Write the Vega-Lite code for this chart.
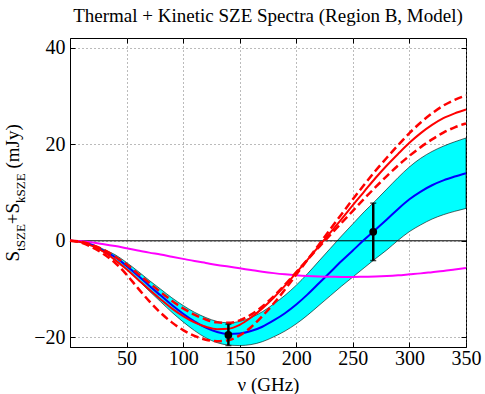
{
  "$schema": "https://vega.github.io/schema/vega-lite/v6.json",
  "width": 396,
  "height": 309,
  "autosize": {"type": "none"},
  "padding": {"left": 70, "top": 38, "right": 19, "bottom": 47},
  "background": "white",
  "config": {
    "view": {"stroke": "black", "strokeWidth": 1},
    "font": "Liberation Serif",
    "axis": {"labelFont": "Liberation Serif", "titleFont": "Liberation Serif", "labelColor": "black", "titleColor": "black", "titleFontWeight": "normal", "domainColor": "black", "tickColor": "black"}
  },
  "title": {"text": "Thermal + Kinetic SZE Spectra (Region B, Model)", "font": "Liberation Serif", "fontSize": 19, "fontWeight": "normal", "color": "black", "offset": 12, "anchor": "middle"},
  "datasets": {
    "curves": [
      {"nu": 0, "c": 0, "lo": 0, "hi": 0, "red": 0, "ra": 0, "rb": 0, "mag": 0},
      {"nu": 10, "c": -0.2, "lo": -0.25, "hi": -0.15, "red": -0.3, "ra": -0.4, "rb": -0.2, "mag": -0.1},
      {"nu": 20, "c": -0.9, "lo": -1.05, "hi": -0.75, "red": -1.1, "ra": -1.4, "rb": -0.9, "mag": -0.35},
      {"nu": 30, "c": -2.1, "lo": -2.4, "hi": -1.8, "red": -2.3, "ra": -2.8, "rb": -1.9, "mag": -0.7},
      {"nu": 40, "c": -3.4, "lo": -3.9, "hi": -2.9, "red": -4.0, "ra": -4.6, "rb": -3.3, "mag": -1.1},
      {"nu": 50, "c": -5.2, "lo": -5.9, "hi": -4.5, "red": -5.9, "ra": -7.0, "rb": -4.9, "mag": -1.55},
      {"nu": 60, "c": -7.2, "lo": -8.1, "hi": -6.3, "red": -8.0, "ra": -9.8, "rb": -6.8, "mag": -2.0},
      {"nu": 70, "c": -9.3, "lo": -10.4, "hi": -8.2, "red": -10.1, "ra": -12.5, "rb": -8.7, "mag": -2.45},
      {"nu": 80, "c": -11.3, "lo": -12.6, "hi": -10.0, "red": -12.1, "ra": -14.9, "rb": -10.6, "mag": -2.85},
      {"nu": 90, "c": -13.3, "lo": -14.8, "hi": -11.8, "red": -14.0, "ra": -16.9, "rb": -12.4, "mag": -3.3},
      {"nu": 100, "c": -15.1, "lo": -16.8, "hi": -13.4, "red": -15.6, "ra": -18.5, "rb": -14.0, "mag": -3.75},
      {"nu": 110, "c": -16.7, "lo": -18.6, "hi": -14.8, "red": -16.9, "ra": -19.7, "rb": -15.3, "mag": -4.2},
      {"nu": 120, "c": -18.0, "lo": -20.1, "hi": -15.9, "red": -17.8, "ra": -20.5, "rb": -16.3, "mag": -4.6},
      {"nu": 130, "c": -18.9, "lo": -21.1, "hi": -16.7, "red": -18.3, "ra": -20.8, "rb": -16.9, "mag": -5.0},
      {"nu": 140, "c": -19.3, "lo": -21.6, "hi": -17.0, "red": -18.2, "ra": -20.6, "rb": -17.0, "mag": -5.35},
      {"nu": 150, "c": -19.2, "lo": -21.7, "hi": -16.7, "red": -17.4, "ra": -19.6, "rb": -16.5, "mag": -5.7},
      {"nu": 160, "c": -18.7, "lo": -21.5, "hi": -15.9, "red": -15.9, "ra": -17.9, "rb": -15.3, "mag": -6.05},
      {"nu": 170, "c": -17.8, "lo": -20.9, "hi": -14.7, "red": -14.0, "ra": -15.6, "rb": -13.6, "mag": -6.4},
      {"nu": 180, "c": -16.5, "lo": -19.9, "hi": -13.1, "red": -11.8, "ra": -13.0, "rb": -11.5, "mag": -6.7},
      {"nu": 190, "c": -15.0, "lo": -18.7, "hi": -11.3, "red": -9.3, "ra": -10.1, "rb": -9.1, "mag": -6.95},
      {"nu": 200, "c": -13.2, "lo": -17.2, "hi": -9.2, "red": -6.6, "ra": -7.0, "rb": -6.5, "mag": -7.15},
      {"nu": 210, "c": -11.1, "lo": -15.4, "hi": -6.8, "red": -3.9, "ra": -3.9, "rb": -3.9, "mag": -7.3},
      {"nu": 220, "c": -8.8, "lo": -13.4, "hi": -4.2, "red": -1.1, "ra": -0.8, "rb": -1.3, "mag": -7.4},
      {"nu": 230, "c": -6.5, "lo": -11.4, "hi": -1.6, "red": 1.7, "ra": 2.4, "rb": 1.2, "mag": -7.45},
      {"nu": 240, "c": -4.2, "lo": -9.4, "hi": 1.0, "red": 4.5, "ra": 5.5, "rb": 3.7, "mag": -7.5},
      {"nu": 250, "c": -2.0, "lo": -7.5, "hi": 3.5, "red": 7.4, "ra": 8.6, "rb": 6.2, "mag": -7.5},
      {"nu": 260, "c": 0.2, "lo": -5.6, "hi": 6.0, "red": 10.2, "ra": 11.6, "rb": 8.7, "mag": -7.45},
      {"nu": 270, "c": 2.3, "lo": -3.7, "hi": 8.3, "red": 13.0, "ra": 14.5, "rb": 11.1, "mag": -7.4},
      {"nu": 280, "c": 4.4, "lo": -1.9, "hi": 10.7, "red": 15.6, "ra": 17.2, "rb": 13.4, "mag": -7.3},
      {"nu": 290, "c": 6.6, "lo": 0.1, "hi": 13.1, "red": 18.0, "ra": 19.8, "rb": 15.6, "mag": -7.15},
      {"nu": 300, "c": 8.6, "lo": 1.9, "hi": 15.3, "red": 20.3, "ra": 22.3, "rb": 17.6, "mag": -6.95},
      {"nu": 310, "c": 10.2, "lo": 3.3, "hi": 17.1, "red": 22.3, "ra": 24.5, "rb": 19.4, "mag": -6.75},
      {"nu": 320, "c": 11.5, "lo": 4.5, "hi": 18.5, "red": 24.0, "ra": 26.4, "rb": 21.0, "mag": -6.5},
      {"nu": 330, "c": 12.5, "lo": 5.4, "hi": 19.6, "red": 25.4, "ra": 28.0, "rb": 22.4, "mag": -6.25},
      {"nu": 340, "c": 13.3, "lo": 6.1, "hi": 20.5, "red": 26.4, "ra": 29.2, "rb": 23.5, "mag": -5.95},
      {"nu": 350, "c": 14.0, "lo": 6.7, "hi": 21.3, "red": 27.2, "ra": 30.1, "rb": 24.3, "mag": -5.65}
    ],
    "points": [
      {"nu": 140, "y": -19.5, "lo": -21.7, "hi": -17.3},
      {"nu": 268, "y": 1.85, "lo": -4.1, "hi": 7.8}
    ]
  },
  "resolve": {"axis": {"x": "independent", "y": "independent"}},
  "layer": [
    {
      "data": {"name": "curves"},
      "mark": {"type": "area", "fill": "#00FFFF", "stroke": "black", "strokeWidth": 0.6, "interpolate": "monotone"},
      "encoding": {
        "x": {"field": "nu", "type": "quantitative", "scale": {"domain": [0, 350], "nice": false, "zero": false},
          "axis": {"orient": "bottom", "values": [50, 100, 150, 200, 250, 300, 350], "grid": true, "gridDash": [1, 3], "gridColor": "#777", "gridWidth": 1, "tickSize": -5, "labelFont": "Liberation Serif", "labelFontSize": 20, "labelPadding": 6, "labelFlush": false, "labelOverlap": false, "format": "d", "title": "ν (GHz)", "titleFont": "Liberation Serif", "titleFontSize": 19, "titleBaseline": "alphabetic", "titleY": 43}},
        "y": {"field": "lo", "type": "quantitative", "scale": {"domain": [-22, 42], "nice": false, "zero": false},
          "axis": {"orient": "left", "values": [-20, 0, 20, 40], "grid": true, "gridDash": [1, 3], "gridColor": "#777", "gridWidth": 1, "tickSize": -5, "labelFont": "Liberation Serif", "labelFontSize": 20, "labelPadding": 10, "labelFlush": false, "labelOverlap": false, "format": "d", "title": null}},
        "y2": {"field": "hi"}
      }
    },
    {
      "data": {"values": [{"baseline": 0}]},
      "mark": {"type": "rule", "color": "black", "strokeWidth": 1},
      "encoding": {
        "y": {"field": "baseline", "type": "quantitative", "scale": {"domain": [-22, 42], "nice": false, "zero": false},
          "axis": {"orient": "right", "values": [-20, 0, 20, 40], "tickSize": -5, "labels": false, "domain": false, "grid": false, "title": null}}
      }
    },
    {
      "data": {"name": "curves"},
      "mark": {"type": "line", "color": "#0000FF", "strokeWidth": 2, "interpolate": "monotone"},
      "encoding": {
        "x": {"field": "nu", "type": "quantitative", "scale": {"domain": [0, 350], "nice": false, "zero": false},
          "axis": {"orient": "top", "values": [50, 100, 150, 200, 250, 300, 350], "tickSize": -5, "labels": false, "domain": false, "grid": false, "title": null}},
        "y": {"field": "c", "type": "quantitative", "scale": {"domain": [-22, 42], "nice": false, "zero": false},
          "axis": {"orient": "left", "ticks": false, "labels": false, "domain": false, "grid": false, "title": "S", "titleFont": "Liberation Serif", "titleFontSize": 19, "titleAngle": 270, "titleAlign": "left", "titleBaseline": "alphabetic", "titleX": -52, "titleY": 223}}
      }
    },
    {
      "data": {"name": "curves"},
      "mark": {"type": "line", "color": "#FF00FF", "strokeWidth": 2, "interpolate": "monotone"},
      "encoding": {
        "x": {"field": "nu", "type": "quantitative", "scale": {"domain": [0, 350], "nice": false, "zero": false}, "axis": null},
        "y": {"field": "mag", "type": "quantitative", "scale": {"domain": [-22, 42], "nice": false, "zero": false},
          "axis": {"orient": "left", "ticks": false, "labels": false, "domain": false, "grid": false, "title": "tSZE", "titleFont": "Liberation Serif", "titleFontSize": 13, "titleAngle": 270, "titleAlign": "left", "titleBaseline": "alphabetic", "titleX": -46, "titleY": 212.4}}
      }
    },
    {
      "data": {"name": "curves"},
      "mark": {"type": "line", "color": "#FF0000", "strokeWidth": 2, "interpolate": "monotone"},
      "encoding": {
        "x": {"field": "nu", "type": "quantitative", "scale": {"domain": [0, 350], "nice": false, "zero": false}, "axis": null},
        "y": {"field": "red", "type": "quantitative", "scale": {"domain": [-22, 42], "nice": false, "zero": false},
          "axis": {"orient": "left", "ticks": false, "labels": false, "domain": false, "grid": false, "title": "+S", "titleFont": "Liberation Serif", "titleFontSize": 19, "titleAngle": 270, "titleAlign": "left", "titleBaseline": "alphabetic", "titleX": -52, "titleY": 185.7}}
      }
    },
    {
      "data": {"name": "curves"},
      "mark": {"type": "line", "color": "#FF0000", "strokeWidth": 2.5, "strokeDash": [8, 4], "interpolate": "monotone"},
      "encoding": {
        "x": {"field": "nu", "type": "quantitative", "scale": {"domain": [0, 350], "nice": false, "zero": false}, "axis": null},
        "y": {"field": "ra", "type": "quantitative", "scale": {"domain": [-22, 42], "nice": false, "zero": false},
          "axis": {"orient": "left", "ticks": false, "labels": false, "domain": false, "grid": false, "title": "kSZE", "titleFont": "Liberation Serif", "titleFontSize": 13, "titleAngle": 270, "titleAlign": "left", "titleBaseline": "alphabetic", "titleX": -46, "titleY": 164.4}}
      }
    },
    {
      "data": {"name": "curves"},
      "mark": {"type": "line", "color": "#FF0000", "strokeWidth": 2.5, "strokeDash": [8, 4], "interpolate": "monotone"},
      "encoding": {
        "x": {"field": "nu", "type": "quantitative", "scale": {"domain": [0, 350], "nice": false, "zero": false}, "axis": null},
        "y": {"field": "rb", "type": "quantitative", "scale": {"domain": [-22, 42], "nice": false, "zero": false},
          "axis": {"orient": "left", "ticks": false, "labels": false, "domain": false, "grid": false, "title": "(mJy)", "titleFont": "Liberation Serif", "titleFontSize": 19, "titleAngle": 270, "titleAlign": "left", "titleBaseline": "alphabetic", "titleX": -52, "titleY": 130}}
      }
    },
    {
      "data": {"name": "points"},
      "mark": {"type": "rule", "color": "black", "strokeWidth": 2.5},
      "encoding": {
        "x": {"field": "nu", "type": "quantitative", "scale": {"domain": [0, 350], "nice": false, "zero": false}, "axis": null},
        "y": {"field": "lo", "type": "quantitative", "scale": {"domain": [-22, 42], "nice": false, "zero": false}, "axis": null},
        "y2": {"field": "hi"}
      }
    },
    {
      "data": {"name": "points"},
      "mark": {"type": "tick", "color": "black", "orient": "horizontal", "size": 6, "thickness": 1.5},
      "encoding": {
        "x": {"field": "nu", "type": "quantitative", "scale": {"domain": [0, 350], "nice": false, "zero": false}, "axis": null},
        "y": {"field": "hi", "type": "quantitative", "scale": {"domain": [-22, 42], "nice": false, "zero": false}, "axis": null}
      }
    },
    {
      "data": {"name": "points"},
      "mark": {"type": "tick", "color": "black", "orient": "horizontal", "size": 6, "thickness": 1.5},
      "encoding": {
        "x": {"field": "nu", "type": "quantitative", "scale": {"domain": [0, 350], "nice": false, "zero": false}, "axis": null},
        "y": {"field": "lo", "type": "quantitative", "scale": {"domain": [-22, 42], "nice": false, "zero": false}, "axis": null}
      }
    },
    {
      "data": {"name": "points"},
      "mark": {"type": "circle", "color": "black", "opacity": 1, "size": 60},
      "encoding": {
        "x": {"field": "nu", "type": "quantitative", "scale": {"domain": [0, 350], "nice": false, "zero": false}, "axis": null},
        "y": {"field": "y", "type": "quantitative", "scale": {"domain": [-22, 42], "nice": false, "zero": false}, "axis": null}
      }
    }
  ]
}
